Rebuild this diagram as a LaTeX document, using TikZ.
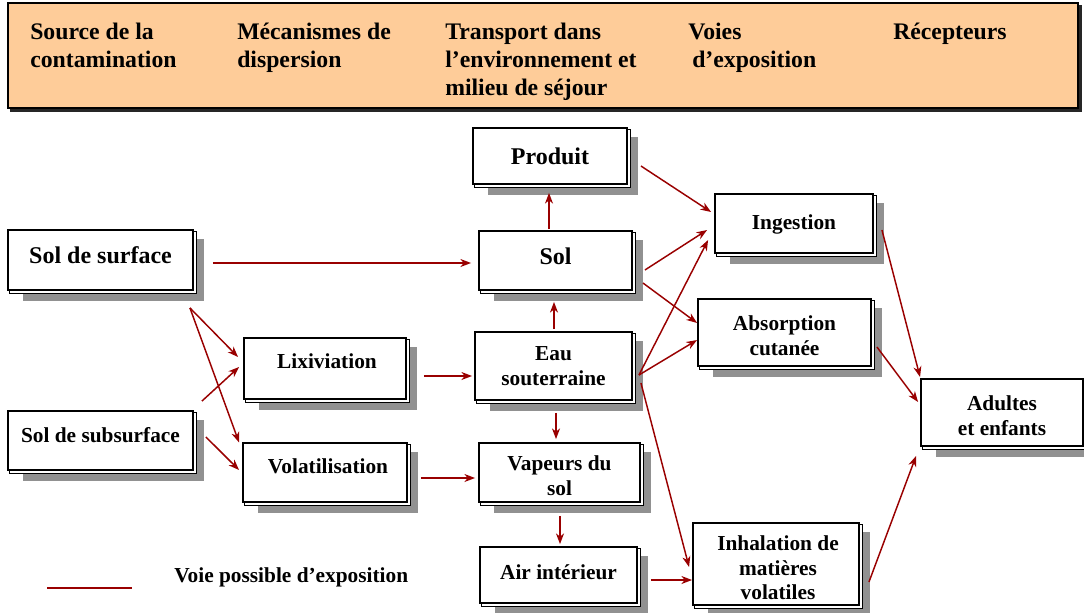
\documentclass[tikz,border=0pt]{standalone}
\usepackage{fontspec}
\setmainfont{Liberation Serif}
\usetikzlibrary{calc,arrows.meta,backgrounds}
\definecolor{arrred}{HTML}{990000}
\definecolor{peach}{HTML}{FECC99}
\definecolor{shadowgray}{HTML}{919191}

% a framed box of given centre and size (in px units)
\newcommand\flowbox[5]{\node[box,minimum width={#4*0.75pt},minimum height={#5*0.75pt}] (#1) at (#2,#3) {};}
% grey drop shadow and thin offset outline behind a box
\newcommand\boxback[1]{%
  \fill[shadowgray] ($(#1.north west)+(16,10)$) rectangle ($(#1.south east)+(10,10)$);
  \draw[black,line width=0.8pt,fill=white] ($(#1.north west)+(2.5,2.5)$) rectangle ($(#1.south east)+(2.5,2.5)$);}

\begin{document}
\begin{tikzpicture}[x=0.75pt,y=-0.75pt,
  box/.style={draw=black,line width=1.4pt,fill=white,inner sep=0pt},
  lbl/.style={font=\bfseries\fontsize{16}{18.5}\selectfont,align=center,inner sep=0pt},
  big/.style={font=\bfseries\fontsize{18}{21}\selectfont},
  head/.style={font=\bfseries\fontsize{17.8}{21}\selectfont,align=left,anchor=north west,inner sep=0pt},
  arr/.style={draw=arrred,line width=1.1pt,-{Stealth[length=8pt,width=6pt,inset=2.5pt]}}]
\useasboundingbox (0,0) rectangle (1084,613);

% header band
\node[draw=black,line width=1.2pt,fill=peach,minimum width={1070*0.75pt},minimum height={105*0.75pt},inner sep=0pt] (header) at (543,55.5) {};
\node[head] (h1) at (30,16.5) {\rule{0pt}{0.95em}Source de la\\contamination};
\node[head] (h2) at (237,16.5) {\rule{0pt}{0.95em}Mécanismes de\\dispersion};
\node[head] (h3) at (445,16.5) {\rule{0pt}{0.95em}Transport dans\\l’environnement et\\milieu de séjour};
\node[head] (h4) at (688,16.5) {\rule{0pt}{0.95em}Voies\\\hspace{3pt}d’exposition};
\node[head] (h5) at (893,16.5) {\rule{0pt}{0.95em}Récepteurs};

% boxes
\flowbox{produit}{550}{156}{154}{56}
\flowbox{ssurf}{100.5}{260}{185}{60}
\flowbox{sol}{555.5}{260.5}{153}{59}
\flowbox{ingest}{794}{223.5}{158}{59}
\flowbox{absorb}{784.5}{332.5}{173}{67}
\flowbox{lixi}{325}{368.5}{162}{61}
\flowbox{eau}{553.5}{366}{157}{68}
\flowbox{ssub}{100.5}{440.5}{185}{59}
\flowbox{volat}{325}{472.5}{164}{59}
\flowbox{vap}{559.5}{472.5}{161}{59}
\flowbox{air}{558.5}{575}{157}{56}
\flowbox{inhal}{776}{564}{166}{82}
\flowbox{adult}{1002}{412.5}{162}{67}

\begin{pgfonlayer}{background}
  \fill[black!85] ($(header.north west)+(3,3)$) rectangle ($(header.south east)+(3,3)$);
  \foreach \b in {produit,ssurf,sol,ingest,absorb,lixi,eau,ssub,volat,vap,air,inhal,adult}{\boxback{\b}}
\end{pgfonlayer}

% box texts
\node[lbl,big] (produit-t) at (produit.center) {Produit};
\node[lbl,big] (ssurf-t) at ($(ssurf.center)+(0,-5)$) {Sol de surface};
\node[lbl,big] (sol-t) at ($(sol.center)+(0,-4)$) {Sol};
\node[lbl] (ingest-t) at ($(ingest.center)+(0,1)$) {Ingestion};
\node[lbl] (absorb-t) at ($(absorb.center)+(0,3)$) {Absorption\\cutanée};
\node[lbl] (lixi-t) at ($(lixi.center)+(2,-7)$) {Lixiviation};
\node[lbl] (eau-t) at (eau.center) {Eau\\souterraine};
\node[lbl] (ssub-t) at ($(ssub.center)+(0,-5)$) {Sol de subsurface};
\node[lbl] (volat-t) at ($(volat.center)+(3,-6)$) {Volatilisation};
\node[lbl] (vap-t) at ($(vap.center)+(0,3.5)$) {Vapeurs du\\sol};
\node[lbl] (air-t) at ($(air.center)+(0,-3)$) {Air intérieur};
\node[lbl] (inhal-t) at ($(inhal.center)+(2,4)$) {Inhalation de\\matières\\volatiles};
\node[lbl] (adult-t) at ($(adult.center)+(0,3.5)$) {Adultes\\et enfants};

% exposure pathways
\draw[arr] ($(ssurf.east)+(19,3)$) -- ($(sol.west)+(-7,2.5)$);
\draw[arr] ($(sol.north)+(-6.5,-1)$) -- ($(produit.south)+(-1,8)$);
\draw[arr] ($(eau.north)+(0.5,-2)$) -- ($(sol.south)+(-1.5,11)$);
\draw[arr] ($(produit.east)+(13,10)$) -- ($(ingest.west)+(-3,-11.5)$);
\draw[arr] ($(sol.east)+(12,9.5)$) -- ($(ingest.west)+(-7,6.5)$);
\draw[arr] ($(sol.east)+(10,22.5)$) -- ($(absorb.west)+(0,-9.5)$);
\draw[arr] ($(eau.east)+(6,9)$) -- ($(ingest.west)+(-6,16.5)$);
\draw[arr] ($(eau.east)+(6,9)$) -- ($(absorb.west)+(0,7.5)$);
\draw[arr] ($(eau.east)+(8,17)$) -- ($(inhal.west)+(-3,3)$);
\draw[arr] ($(eau.south)+(2.5,12)$) -- ($(vap.north)+(-3.5,-3)$);
\draw[arr] ($(vap.south)+(0.5,13)$) -- ($(air.north)+(1.5,-2)$);
\draw[arr] ($(air.east)+(13,5)$) -- ($(inhal.west)+(0,16)$);
\draw[arr] ($(lixi.east)+(17,7.5)$) -- ($(eau.west)+(-2,10)$);
\draw[arr] ($(volat.east)+(13,5.5)$) -- ($(vap.west)+(-3,5.5)$);
\draw[arr] ($(ssurf.south east)+(-4,17)$) -- ($(lixi.west)+(-5,-11.5)$);
\draw[arr] ($(ssurf.south east)+(-4,17)$) -- ($(volat.west)+(-3,-30)$);
\draw[arr] ($(ssub.north east)+(8,-9)$) -- ($(lixi.west)+(-4,-1.5)$);
\draw[arr] ($(ssub.east)+(12,-3.5)$) -- ($(volat.west)+(-3,-2.5)$);
\draw[arr] ($(ingest.east)+(8,6.5)$) -- ($(adult.north west)+(0,-1)$);
\draw[arr] ($(absorb.east)+(5,14.5)$) -- ($(adult.west)+(-2,-10.5)$);
\draw[arr] ($(inhal.east)+(9,18)$) -- ($(adult.south west)+(-4,9)$);

% legend
\coordinate (leg-a) at (47,588);
\coordinate (leg-b) at (132,588);
\draw[arrred,line width=1.2pt] (leg-a) -- (leg-b);
\node[lbl,anchor=west] (leg-t) at (174,577) {Voie possible d’exposition};
\end{tikzpicture}
\end{document}
